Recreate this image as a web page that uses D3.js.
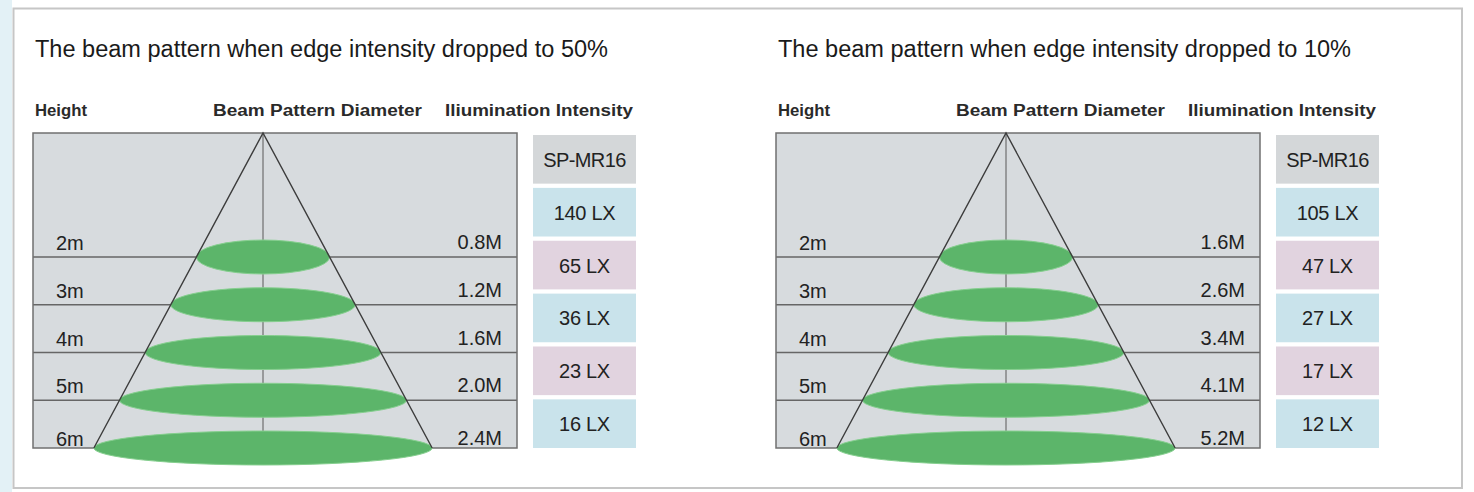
<!DOCTYPE html>
<html>
<head>
<meta charset="utf-8">
<script src="https://cdn.jsdelivr.net/npm/d3@7"></script>
<style>
  html, body { margin: 0; padding: 0; background: #ffffff; }
  svg { display: block; font-family: "Liberation Sans", Arial, Helvetica, sans-serif; }
</style>
</head>
<body>
<svg id="chart" width="1474" height="492"></svg>
<script>
// ---- data ----
const titles = [
  "The beam pattern when edge intensity dropped to 50%",
  "The beam pattern when edge intensity dropped to 10%"
];
const columnHeaders = ["Height", "Beam Pattern Diameter", "Iliumination Intensity"];
const heights = [2, 3, 4, 5, 6];
const heightLabels = ["2m", "3m", "4m", "5m", "6m"];
const diameters50 = ["0.8M", "1.2M", "1.6M", "2.0M", "2.4M"];
const diameters10 = ["1.6M", "2.6M", "3.4M", "4.1M", "5.2M"];
const model = "SP-MR16";
const lux50 = [140, 65, 36, 23, 16];
const lux10 = [105, 47, 27, 17, 12];

// ---- layout ----
const svg = d3.select("#chart");
const W = 1474, H = 492;

// page background strip + outer frame
svg.append("rect").attr("x", 0).attr("y", 0).attr("width", 12).attr("height", H).attr("fill", "#e3f1f6");
svg.append("rect").attr("x", 13.5).attr("y", 8.5).attr("width", 1448.5).attr("height", 479.5)
  .attr("fill", "#ffffff").attr("stroke", "#c6c6c6").attr("stroke-width", 2);

const panels = [
  { dx: 0, title: titles[0], diam: diameters50, lux: lux50 },
  { dx: 743, title: titles[1], diam: diameters10, lux: lux10 }
];

const boxLeft = 33, boxRight = 517, boxTop = 133;
const apexX = 263;
const coneSlope = 0.537;
const y = d3.scaleLinear().domain([2, 6]).range([257, 448]);
const luxRows = [model].concat(lux50.map((d, i) => i)); // 6 rows
const yLux = d3.scaleBand().domain(d3.range(6)).range([135, 448]).paddingInner(0.08).paddingOuter(0);
const luxColors = ["#d4d7d9", "#c9e3eb", "#e1d3df", "#c9e3eb", "#e1d3df", "#c9e3eb"];

function fit(sel, w) { sel.attr("textLength", w).attr("lengthAdjust", "spacingAndGlyphs"); }

panels.forEach((p, pi) => {
  const g = svg.append("g").attr("transform", `translate(${p.dx},0)`);

  // title
  g.append("text").attr("x", 35).attr("y", 57).attr("font-size", 23).attr("fill", "#1a1a1a")
    .text(p.title).call(fit, 573);

  // headers
  const hdr = [{ t: columnHeaders[0], x: 35, w: 52 }, { t: columnHeaders[1], x: 213, w: 209 }, { t: columnHeaders[2], x: 445, w: 188 }];
  hdr.forEach(h => {
    g.append("text").attr("x", h.x).attr("y", 116).attr("font-size", 16).attr("font-weight", "bold")
      .attr("fill", "#2a2a2a").text(h.t).call(fit, h.w);
  });

  // gray box
  g.append("rect").attr("x", boxLeft).attr("y", boxTop).attr("width", boxRight - boxLeft)
    .attr("height", y(6) - boxTop).attr("fill", "#d7dbde");

  // center vertical line
  g.append("line").attr("x1", apexX).attr("x2", apexX).attr("y1", boxTop).attr("y2", y(6))
    .attr("stroke", "#6e6e6e").attr("stroke-width", 1.2);

  // horizontal lines
  g.selectAll(".hl").data(heights.slice(0, 4)).enter().append("line")
    .attr("x1", boxLeft).attr("x2", boxRight).attr("y1", d => y(d)).attr("y2", d => y(d))
    .attr("stroke", "#666").attr("stroke-width", 1.3);

  // box border
  g.append("rect").attr("x", boxLeft).attr("y", boxTop).attr("width", boxRight - boxLeft)
    .attr("height", y(6) - boxTop).attr("fill", "none").attr("stroke", "#707070").attr("stroke-width", 1.5);

  // ellipses
  g.selectAll(".beam").data(heights).enter().append("ellipse")
    .attr("cx", apexX).attr("cy", d => y(d))
    .attr("rx", d => coneSlope * (y(d) - boxTop)).attr("ry", 17)
    .attr("fill", "#5cb56a").attr("stroke", "#86cf8f").attr("stroke-width", 1);

  // cone legs
  const yb = y(6), hw = coneSlope * (yb - boxTop);
  g.append("path").attr("d", `M${apexX - hw},${yb}L${apexX},${boxTop}L${apexX + hw},${yb}`)
    .attr("fill", "none").attr("stroke", "#3c3c3c").attr("stroke-width", 1.4);

  // row labels
  g.selectAll(".hlab").data(heights).enter().append("text")
    .attr("x", 56).attr("y", (d, i) => y(d) - (i === 4 ? 2 : 7))
    .attr("font-size", 20).attr("fill", "#222").text((d, i) => heightLabels[i]);

  g.selectAll(".dlab").data(heights).enter().append("text")
    .attr("x", 502).attr("y", (d, i) => y(d) - (i === 4 ? 3 : 8)).attr("text-anchor", "end")
    .attr("font-size", 20).attr("fill", "#222").text((d, i) => p.diam[i]);

  // intensity column
  const luxLabels = [model].concat(p.lux.map(v => v + " LX"));
  g.selectAll(".lbox").data(luxLabels).enter().append("rect")
    .attr("x", 533).attr("y", (d, i) => yLux(i)).attr("width", 103).attr("height", yLux.bandwidth())
    .attr("fill", (d, i) => luxColors[i]);
  g.selectAll(".ltxt").data(luxLabels).enter().append("text")
    .attr("x", 584.5).attr("y", (d, i) => yLux(i) + yLux.bandwidth() / 2 + 7.5)
    .attr("text-anchor", "middle").attr("font-size", 20).attr("fill", "#222")
    .attr("letter-spacing", (d, i) => i === 0 ? -0.6 : -0.3)
    .text(d => d);
});
</script>
</body>
</html>
